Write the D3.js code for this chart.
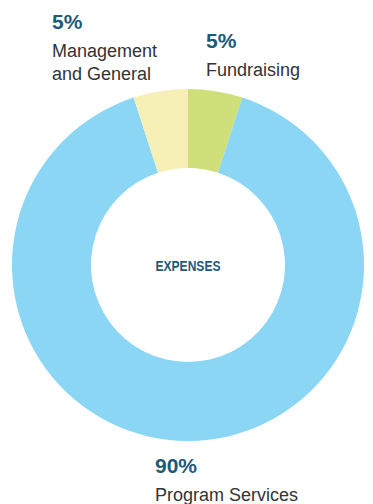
<!DOCTYPE html>
<html>
<head>
<meta charset="utf-8">
<script src="https://cdn.jsdelivr.net/npm/d3@7"></script>
<style>
  body { margin: 0; background: #fff; }
  text { font-family: "Liberation Sans", Arial, sans-serif; }
</style>
</head>
<body>
<div id="chart-area"></div>
<script>
var width = 373,
    height = 504;

// data
var categories = ["Fundraising", "Program Services", "Management and General"];
var values = [5, 90, 5];
var pctLabels = ["5%", "90%", "5%"];
var colors = ["#cfdf7a", "#8ad6f4", "#f6efb6"];

var cx = 188, cy = 265,
    outerR = 176, innerR = 97;

var svg = d3.select("#chart-area")
  .append("svg")
    .attr("width", width)
    .attr("height", height);

var color = d3.scaleOrdinal()
  .domain(categories)
  .range(colors);

var pie = d3.pie()
  .sort(null)
  .value(function(d, i) { return values[i]; });

var arc = d3.arc()
  .innerRadius(innerR)
  .outerRadius(outerR);

var g = svg.append("g")
  .attr("transform", "translate(" + cx + "," + cy + ")");

g.selectAll("path")
  .data(pie(categories))
  .enter()
  .append("path")
    .attr("d", arc)
    .attr("fill", function(d) { return color(d.data); });

// center label
g.append("text")
  .attr("text-anchor", "middle")
  .attr("y", 6)
  .attr("font-size", "14px")
  .attr("font-weight", "bold")
  .attr("fill", "#1d5a7a")
  .attr("textLength", 65)
  .attr("lengthAdjust", "spacingAndGlyphs")
  .text("EXPENSES");

// slice labels
var labels = [
  {pct: pctLabels[2], lines: ["Management", "and General"], x: 52, y: 29},
  {pct: pctLabels[0], lines: ["Fundraising"], x: 206, y: 48},
  {pct: pctLabels[1], lines: ["Program Services"], x: 155, y: 473}
];

labels.forEach(function(l) {
  svg.append("text")
    .attr("x", l.x)
    .attr("y", l.y)
    .attr("font-size", "21px")
    .attr("font-weight", "bold")
    .attr("fill", "#1d5a7a")
    .text(l.pct);
  l.lines.forEach(function(line, i) {
    svg.append("text")
      .attr("x", l.x)
      .attr("y", l.y + 28 + i * 23)
      .attr("font-size", "18px")
      .attr("fill", "#333")
      .text(line);
  });
});
</script>
</body>
</html>
